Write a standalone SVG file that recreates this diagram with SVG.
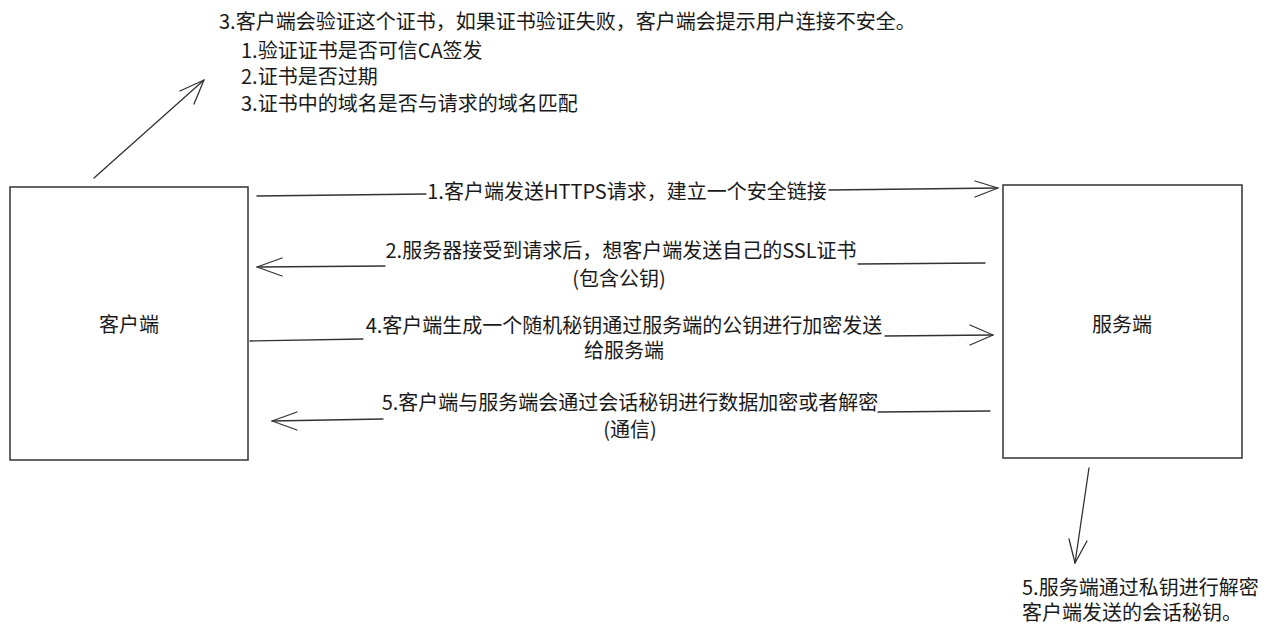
<svg xmlns="http://www.w3.org/2000/svg" width="1266" height="640" viewBox="0 0 1266 640">
<style>
  text { font-family: "Noto Sans CJK SC", "Noto Sans", sans-serif; font-size: 20px; fill: #1a1a1a; }
  .mid { text-anchor: middle; }
  .box { fill: #ffffff; stroke: #333333; stroke-width: 1.5; }
  .ln { fill: none; stroke: #333333; stroke-width: 1.3; stroke-linecap: round; stroke-linejoin: round; }
</style>
<rect x="0" y="0" width="1266" height="640" fill="#ffffff"/>

<g id="client">
  <rect class="box" x="10" y="187" width="238" height="273"/>
  <text class="mid" x="129" y="332">客户端</text>
</g>

<g id="server">
  <rect class="box" x="1003" y="185" width="239" height="273"/>
  <text class="mid" x="1122" y="332">服务端</text>
</g>

<g id="note-verify">
  <text x="219" y="29">3.客户端会验证这个证书，如果证书验证失败，客户端会提示用户连接不安全。</text>
  <text x="241" y="58">1.验证证书是否可信CA签发</text>
  <text x="241" y="84">2.证书是否过期</text>
  <text x="241" y="111">3.证书中的域名是否与请求的域名匹配</text>
</g>

<g id="note-decrypt">
  <text x="1022" y="595">5.服务端通过私钥进行解密</text>
  <text x="1022" y="620">客户端发送的会话秘钥。</text>
</g>

<g id="connectors">
  <!-- 1 -->
  <path class="ln" d="M257 196 L426 194"/>
  <path class="ln" d="M829 190 L998 188"/>
  <path class="ln" d="M975 181 L998 188 L975 197"/>
  <text class="mid" x="627" y="199">1.客户端发送HTTPS请求，建立一个安全链接</text>
  <!-- 2 -->
  <path class="ln" d="M985 263 L858 264"/>
  <path class="ln" d="M385 266 L257 267"/>
  <path class="ln" d="M282 258 L257 267 L282 276"/>
  <text class="mid" x="621" y="258">2.服务器接受到请求后，想客户端发送自己的SSL证书</text>
  <text class="mid" x="619" y="286">(包含公钥)</text>
  <!-- 4 -->
  <path class="ln" d="M250 341 L363 339"/>
  <path class="ln" d="M885 336 L993 335"/>
  <path class="ln" d="M970 325 L993 335 L970 345"/>
  <text class="mid" x="624" y="333">4.客户端生成一个随机秘钥通过服务端的公钥进行加密发送</text>
  <text class="mid" x="624" y="358">给服务端</text>
  <!-- 5 -->
  <path class="ln" d="M990 411 L878 412"/>
  <path class="ln" d="M383 419 L272 421"/>
  <path class="ln" d="M297 412 L272 421 L297 430"/>
  <text class="mid" x="630" y="410">5.客户端与服务端会通过会话秘钥进行数据加密或者解密</text>
  <text class="mid" x="630" y="437">(通信)</text>
  <!-- to verify note -->
  <path class="ln" d="M94 178 L204 80"/>
  <path class="ln" d="M180 91 L204 80 L194 104"/>
  <!-- to decrypt note -->
  <path class="ln" d="M1089 468 L1075 563"/>
  <path class="ln" d="M1069 539 L1075 563 L1087 541"/>
</g>
</svg>
